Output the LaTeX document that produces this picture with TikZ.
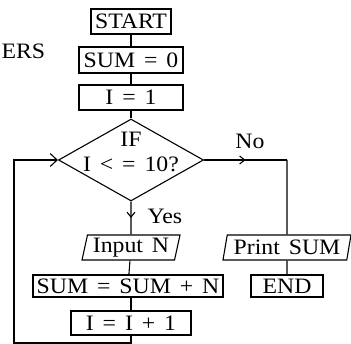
\documentclass[tikz,border=0pt]{standalone}
\usepackage{fontspec}
\setmainfont{Liberation Serif}[FakeStretch=1.08,WordSpace=1.5]
\usetikzlibrary{shapes.geometric,arrows.meta,decorations.markings}
\begin{document}
\begin{tikzpicture}[x=1pt,y=-1pt,line width=1.1pt,
  every node/.style={font=\fontsize{22}{24}\selectfont,inner sep=0pt},
  box/.style={draw,rectangle,minimum height=25pt},
  io/.style={draw,trapezium,trapezium left angle=74,trapezium right angle=106,
    trapezium stretches body,minimum height=25pt},
  dec/.style={draw,diamond,minimum width=145pt,minimum height=82pt},
  midarrow/.style={postaction={decorate},decoration={markings,
    mark=at position 0.5 with {\arrow{Straight Barb[length=5pt,width=8pt]}}}},
  loopline/.style={-{Straight Barb[length=7pt,width=13pt]}}]
\useasboundingbox (0,0) rectangle (351,344);
\node[box,minimum width=80pt] (start) at (131,21.5) {START};
\node[box,minimum width=104pt,minimum height=26pt] (s0) at (131,60) {SUM = 0};
\node[box,minimum width=104pt] (i1) at (131,97.5) {I = 1};
\node[dec] (d) at (131,160) {};
\node[anchor=base] (if) at (131,147) {IF};
\node[anchor=base] (cond) at (131,172) {I < = 10?};
\node[io,minimum width=98pt] (in) at (131,247.5) {Input N};
\node[io,minimum width=128pt] (pr) at (287,247.5) {Print SUM};
\node[box,minimum width=190pt,minimum height=22pt] (sn) at (128,286) {SUM = SUM + N};
\node[box,minimum width=72pt,minimum height=22pt] (end) at (287,286) {END};
\node[box,minimum width=120pt,minimum height=24pt] (i2) at (131,323) {I = I + 1};
\node[anchor=base west] (ers) at (1,59) {ERS};
\node[anchor=base] (no) at (250,149) {No};
\node[anchor=base west] (yes) at (147,224) {Yes};
\coordinate (c1) at (131,343);
\coordinate (c2) at (14,343);
\coordinate (c3) at (14,160);
\coordinate (c4) at (287,160);
\draw (start) -- (s0);
\draw (s0) -- (i1);
\draw (i1) -- (d);
\draw[midarrow] (d.south) -- (in.north);
\draw (in) -- (sn);
\draw (sn.south -| i2) -- (i2);
\draw[loopline] (i2.south) -- (c1) -- (c2) -- (c3) -- (d.west);
\draw[midarrow] (d.east) -- (c4);
\draw (c4) -- (pr.north);
\draw (pr) -- (end);
\end{tikzpicture}
\end{document}
